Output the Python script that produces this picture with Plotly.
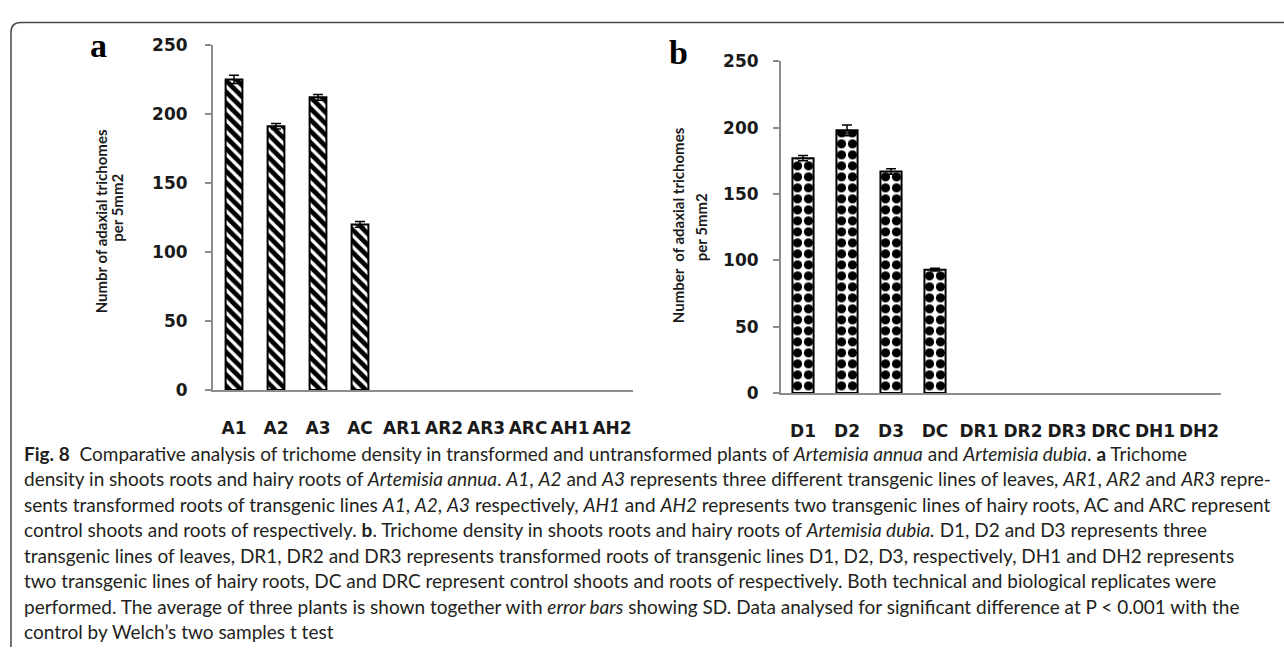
import plotly.graph_objects as go

W, H = 1284, 657

# ---------------- data ----------------
cats_a = ["A1", "A2", "A3", "AC", "AR1", "AR2", "AR3", "ARC", "AH1", "AH2"]
vals_a = [225, 191, 212, 120, None, None, None, None, None, None]
err_a = [3, 2, 2, 2, None, None, None, None, None, None]

cats_b = ["D1", "D2", "D3", "DC", "DR1", "DR2", "DR3", "DRC", "DH1", "DH2"]
vals_b = [177, 198, 167, 93, None, None, None, None, None, None]
err_b = [2, 4, 2, 1, None, None, None, None, None, None]

y_ticks = [0, 50, 100, 150, 200, 250]

title_a = ["Numbr of adaxial trichomes", "per 5mm2"]
title_b = ["Number&nbsp;&nbsp;of adaxial trichomes", "per 5mm2"]

caption_lines = [
    "<b>Fig. 8</b>&nbsp;&nbsp;Comparative analysis of trichome density in transformed and untransformed plants of <i>Artemisia annua</i> and <i>Artemisia dubia</i>. <b>a</b> Trichome",
    "density in shoots roots and hairy roots of <i>Artemisia annua</i>. <i>A1</i>, <i>A2</i> and <i>A3</i> represents three different transgenic lines of leaves, <i>AR1</i>, <i>AR2</i> and <i>AR3</i> repre-",
    "sents transformed roots of transgenic lines <i>A1</i>, <i>A2</i>, <i>A3</i> respectively, <i>AH1</i> and <i>AH2</i> represents two transgenic lines of hairy roots, AC and ARC represent",
    "control shoots and roots of respectively. <b>b</b>. Trichome density in shoots roots and hairy roots of <i>Artemisia dubia.</i> D1, D2 and D3 represents three",
    "transgenic lines of leaves, DR1, DR2 and DR3 represents transformed roots of transgenic lines D1, D2, D3, respectively, DH1 and DH2 represents",
    "two transgenic lines of hairy roots, DC and DRC represent control shoots and roots of respectively. Both technical and biological replicates were",
    "performed. The average of three plants is shown together with <i>error bars</i> showing SD. Data analysed for significant difference at P &lt; 0.001 with the",
    "control by Welch’s two samples t test",
]


def px(x):
    return x / W


def py(y):
    return 1 - y / H


TICK_FONT = dict(family="DejaVu Sans", size=17, color="#1a1a1a", weight="bold")
AXIS_GRAY = "#8c8c8c"

fig = go.Figure()

fig.add_trace(go.Bar(
    x=cats_a, y=vals_a, width=0.4,
    marker=dict(color="white", line=dict(color="black", width=2),
                pattern=dict(shape="\\", fgcolor="black", bgcolor="white", size=8,
                             solidity=0.6, fgopacity=1, fillmode="replace")),
    error_y=dict(type="data", array=err_a, color="black", thickness=1.5, width=5),
    xaxis="x", yaxis="y", hoverinfo="skip",
))

fig.add_trace(go.Bar(
    x=cats_b, y=vals_b, width=0.48,
    marker=dict(color="white", line=dict(color="black", width=2),
                pattern=dict(shape=".", fgcolor="black", bgcolor="white", size=11,
                             solidity=0.55, fgopacity=1, fillmode="replace")),
    error_y=dict(type="data", array=err_b, color="black", thickness=1.5, width=5),
    xaxis="x2", yaxis="y2", hoverinfo="skip",
))

xcommon = dict(type="category", showline=True, linecolor=AXIS_GRAY, linewidth=2,
               ticks="", showgrid=False, zeroline=False, tickfont=TICK_FONT,
               ticklabelstandoff=22, fixedrange=True, categoryorder="array",
               range=[-0.5, 9.5])
ycommon = dict(range=[0, 250], tickvals=y_ticks, showline=True, linecolor=AXIS_GRAY,
               linewidth=2, ticks="outside", ticklen=6, tickwidth=1.5, tickcolor=AXIS_GRAY,
               showgrid=False, zeroline=False, tickfont=TICK_FONT, fixedrange=True)

fig.update_layout(
    width=W, height=H,
    margin=dict(l=0, r=0, t=0, b=0),
    paper_bgcolor="white", plot_bgcolor="white",
    showlegend=False,
    xaxis=dict(**xcommon, categoryarray=cats_a, domain=[px(213), px(633)], anchor="y"),
    yaxis=dict(**ycommon, domain=[py(392), py(36)], anchor="x", ticklabelstandoff=14),
    xaxis2=dict(**xcommon, categoryarray=cats_b, domain=[px(781), px(1221)], anchor="y2"),
    yaxis2=dict(**ycommon, domain=[py(395), py(53)], anchor="x2", ticklabelstandoff=11),
)

annotations = []
# panel letters
annotations.append(dict(text="a", x=px(98), y=py(37), xref="paper", yref="paper",
                        showarrow=False, xanchor="center", yanchor="middle",
                        font=dict(family="Liberation Serif", size=34, color="black", weight="bold")))
annotations.append(dict(text="b", x=px(678), y=py(44), xref="paper", yref="paper",
                        showarrow=False, xanchor="center", yanchor="middle",
                        font=dict(family="Liberation Serif", size=34, color="black", weight="bold")))

TITLE_FONT = dict(family="Lato", size=15, color="#1a1a1a", weight="bold")
# y-axis titles (rotated)
for txt, x, y in [(title_a[0], 101, 218), (title_a[1], 117, 204),
                  (title_b[0], 678, 222), (title_b[1], 701, 224)]:
    annotations.append(dict(text=txt, x=px(x), y=py(y), xref="paper", yref="paper",
                            showarrow=False, textangle=-90, xanchor="center", yanchor="middle",
                            font=TITLE_FONT))

# caption
for i, line in enumerate(caption_lines):
    annotations.append(dict(text=line, x=px(22), y=py(457 + 26.3 * i), xref="paper", yref="paper",
                            showarrow=False, xanchor="left", yanchor="middle", align="left",
                            font=dict(family="Lato", size=19, color="#231f20")))

fig.update_layout(annotations=annotations)

# frame (top and left border with rounded corner)
r = 10
x0, y0 = 11, 13
path = (f"M {px(x0)},{py(H)} L {px(x0)},{py(y0 + r)} "
        f"Q {px(x0)},{py(y0)} {px(x0 + r)},{py(y0)} L {px(W)},{py(y0)}")
fig.add_shape(type="path", path=path, xref="paper", yref="paper",
              line=dict(color="#4a4a4a", width=1.5))

fig.write_html("out.html", config={"displayModeBar": False},
               post_script="document.body.style.margin='0';document.body.style.overflow='hidden';")
